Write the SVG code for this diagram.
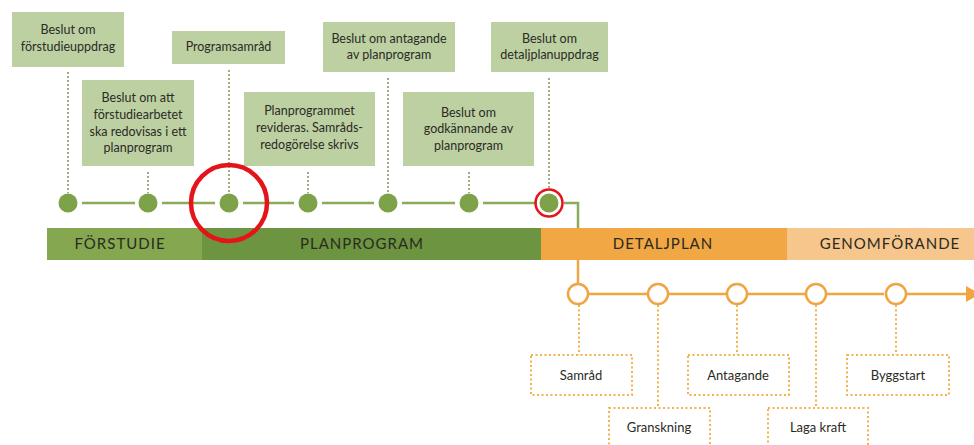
<svg xmlns="http://www.w3.org/2000/svg" width="974" height="445" viewBox="0 0 974 445">
<style>
.box{fill:#bdd0a2}
.bt{font-family:Lato,"Liberation Sans",sans-serif;font-size:12.5px;fill:#2b2b26;text-anchor:middle}
.gdot{fill:#7ea249}
.gline{stroke:#8aab5b;stroke-width:2.5;fill:none}
.gdash{stroke:#9bb07a;stroke-width:2;stroke-dasharray:2 2;fill:none}
.odot{fill:#fff;stroke:#f0a542;stroke-width:2.5}
.oline{stroke:#f0a542;stroke-width:2.5;fill:none}
.odash{stroke:#f2b24e;stroke-width:2;stroke-dasharray:2 2.5;fill:none}
.obox{fill:#fff;stroke:#f2b24e;stroke-width:2;stroke-dasharray:2 2.5}
.ot{font-family:Lato,"Liberation Sans",sans-serif;font-size:13px;fill:#2b2b26;text-anchor:middle}
.bar{font-family:Lato,"Liberation Sans",sans-serif;font-size:15px;fill:#2a2a22;text-anchor:middle;letter-spacing:1px}
.red{fill:none;stroke:#e5141b}
</style>
<defs>
<marker id="arr" markerWidth="14" markerHeight="16" refX="0" refY="8" orient="auto" markerUnits="userSpaceOnUse">
<path d="M0,0 L14,8 L0,16 Z" fill="#f0a542"/>
</marker>
</defs>

<g id="phasebar">
<rect x="47" y="228" width="155" height="32" fill="#84a750"/>
<rect x="202" y="228" width="339" height="32" fill="#6d9440"/>
<rect x="541" y="228" width="246" height="32" fill="#f0a744"/>
<rect x="787" y="228" width="187" height="32" fill="#f6c68c"/>
<text class="bar" x="120" y="249">FÖRSTUDIE</text>
<text class="bar" x="362" y="249">PLANPROGRAM</text>
<text class="bar" x="663" y="249">DETALJPLAN</text>
<text class="bar" x="890" y="249">GENOMFÖRANDE</text>
</g>

<g id="connectors">
<path class="gdash" d="M68,72 V193 M148,172 V193 M229,70 V193 M308,172 V193 M388,78 V193 M469,172 V193 M549,78 V190"/>
<path class="gline" d="M82,203 H135 M162,203 H215 M243,203 H294 M322,203 H374 M402,203 H455 M483,203 H537 M564,203 H578 V228"/>
<path class="oline" d="M578,260 V284"/>
<path class="oline" d="M589,294 H647 M669,294 H726 M748,294 H805 M827,294 H884 M906,294 H966" marker-end="url(#arr)"/>
<path class="odash" d="M579,305 V355 M658,305 V408 M737,305 V355 M816,305 V408 M896,305 V355"/>
</g>

<g id="n1"><rect class="box" x="12" y="12" width="112" height="55"/><text class="bt" x="68" y="34">Beslut om</text><text class="bt" x="68" y="51">förstudieuppdrag</text><circle class="gdot" cx="68" cy="203" r="9.5"/></g>
<g id="n2"><rect class="box" x="82" y="80" width="112" height="86"/><text class="bt" x="138" y="102">Beslut om att</text><text class="bt" x="138" y="119">förstudiearbetet</text><text class="bt" x="138" y="136">ska redovisas i ett</text><text class="bt" x="138" y="152">planprogram</text><circle class="gdot" cx="148" cy="203" r="9.5"/></g>
<g id="n3"><rect class="box" x="172" y="31" width="113" height="33"/><text class="bt" x="228.5" y="51">Programsamråd</text><circle class="gdot" cx="229" cy="203" r="9.5"/></g>
<g id="n4"><rect class="box" x="244" y="92" width="131" height="74"/><text class="bt" x="309.5" y="115">Planprogrammet</text><text class="bt" x="309.5" y="132">revideras. Samråds-</text><text class="bt" x="309.5" y="149">redogörelse skrivs</text><circle class="gdot" cx="308" cy="203" r="9.5"/></g>
<g id="n5"><rect class="box" x="323" y="22" width="132" height="50"/><text class="bt" x="389" y="43">Beslut om antagande</text><text class="bt" x="389" y="59">av planprogram</text><circle class="gdot" cx="388" cy="203" r="9.5"/></g>
<g id="n6"><rect class="box" x="403" y="92" width="131" height="74"/><text class="bt" x="468.5" y="117">Beslut om</text><text class="bt" x="468.5" y="133">godkännande av</text><text class="bt" x="468.5" y="150">planprogram</text><circle class="gdot" cx="469" cy="203" r="9.5"/></g>
<g id="n7"><rect class="box" x="491" y="22" width="117" height="50"/><text class="bt" x="549.5" y="43">Beslut om</text><text class="bt" x="549.5" y="59">detaljplanuppdrag</text><circle class="gdot" cx="549" cy="203" r="9.5"/><circle class="red" cx="549" cy="203" r="13.5" stroke-width="2.5"/></g>

<g id="o1"><circle class="odot" cx="578" cy="294" r="10"/><rect class="obox" x="531" y="355" width="101" height="40"/><text class="ot" x="581" y="380">Samråd</text></g>
<g id="o2"><circle class="odot" cx="658" cy="294" r="10"/><rect class="obox" x="609" y="408" width="101" height="50"/><text class="ot" x="659" y="432">Granskning</text></g>
<g id="o3"><circle class="odot" cx="737" cy="294" r="10"/><rect class="obox" x="688" y="355" width="101" height="40"/><text class="ot" x="738" y="380">Antagande</text></g>
<g id="o4"><circle class="odot" cx="816" cy="294" r="10"/><rect class="obox" x="768" y="408" width="100" height="50"/><text class="ot" x="818" y="432">Laga kraft</text></g>
<g id="o5"><circle class="odot" cx="896" cy="294" r="10"/><rect class="obox" x="847" y="355" width="102" height="40"/><text class="ot" x="898" y="380">Byggstart</text></g>

<g id="highlight"><circle class="red" cx="229" cy="203" r="38" stroke-width="4.5"/></g>
</svg>
